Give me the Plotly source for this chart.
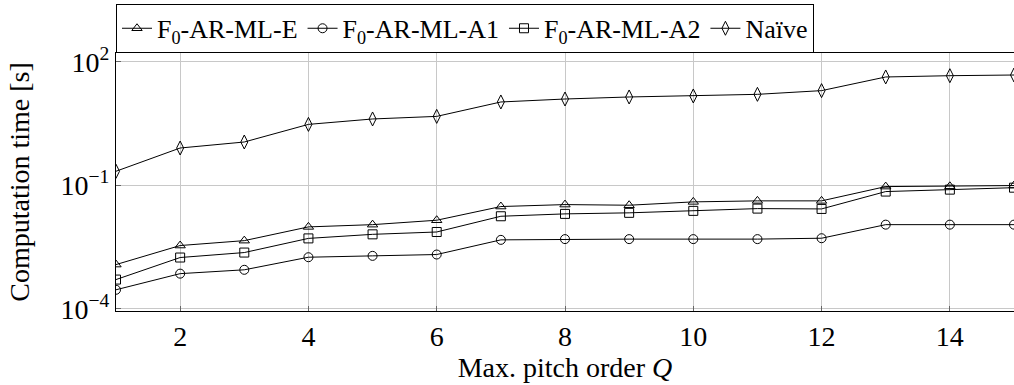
import plotly.graph_objects as go

# Maximum pitch order Q
pitch_order = list(range(1, 16))

# Computation time in seconds for each estimator
time_e = [1.18e-3, 3.42e-3, 4.5e-3, 9.7e-3, 1.1e-2, 1.41e-2, 3.03e-2, 3.38e-2,
          3.26e-2, 3.93e-2, 4.16e-2, 4.16e-2, 9.25e-2, 9.4e-2, 9.8e-2]
time_a1 = [2.88e-4, 7.1e-4, 8.8e-4, 1.78e-3, 1.92e-3, 2.07e-3, 4.7e-3, 4.9e-3,
           4.9e-3, 4.9e-3, 4.9e-3, 5.15e-3, 1.1e-2, 1.1e-2, 1.1e-2]
time_a2 = [5.1e-4, 1.75e-3, 2.31e-3, 5.1e-3, 6.4e-3, 7.3e-3, 1.76e-2, 2.01e-2,
           2.13e-2, 2.38e-2, 2.7e-2, 2.65e-2, 7.0e-2, 7.8e-2, 8.7e-2]
time_naive = [0.218, 0.80, 1.12, 3.0, 4.06, 4.69, 10.5, 12.4, 13.9, 14.7,
              16.1, 19.8, 42.5, 45.7, 47.5]

series_names = ["F<sub>0</sub>-AR-ML-E", "F<sub>0</sub>-AR-ML-A1",
                "F<sub>0</sub>-AR-ML-A2", "Naïve"]

x_ticks = [2, 4, 6, 8, 10, 12, 14]
y_ticks = [1e-4, 1e-1, 1e2]
y_tick_labels = ["10<sup>−4</sup>", "10<sup>−1</sup>", "10<sup>2</sup>"]

FONT = "'Liberation Serif', 'Times New Roman', 'DejaVu Serif', serif"
SIZE = 28

fig = go.Figure()

styles = [
    (time_e, "triangle-up-open", 9),
    (time_a1, "circle-open", 9),
    (time_a2, "square-open", 9),
    (time_naive, "diamond-tall-open", 10),
]
for name, (values, symbol, size) in zip(series_names, styles):
    fig.add_trace(go.Scatter(
        x=pitch_order, y=values, name=name, mode="lines+markers",
        line=dict(color="black", width=1),
        marker=dict(symbol=symbol, size=size, color="black",
                    line=dict(color="black", width=1)),
    ))

fig.update_layout(
    width=1014, height=385,
    margin=dict(l=116, r=0, t=53, b=74, autoexpand=False),
    paper_bgcolor="white", plot_bgcolor="white",
    font=dict(family=FONT, size=SIZE, color="black"),
    showlegend=True,
    legend=dict(
        orientation="h", x=0, xanchor="left", y=0.99, yref="container",
        yanchor="top", bordercolor="black", borderwidth=1,
        bgcolor="white", font=dict(family=FONT, size=26),
        tracegroupgap=0,
    ),
    xaxis=dict(
        range=[1, 15], tickvals=x_ticks,
        showgrid=True, gridcolor="#c8c8c8", gridwidth=1,
        showline=True, linecolor="black", linewidth=1.2, mirror=True,
        ticks="inside", ticklen=5, tickcolor="#666666",
        zeroline=False,
        title=dict(text="Max. pitch order <i>Q</i>", standoff=0,
                   font=dict(family=FONT, size=SIZE)),
        tickfont=dict(family=FONT, size=SIZE),
    ),
    yaxis=dict(
        type="log", range=[-4.056, 2.211],
        tickvals=y_ticks, ticktext=y_tick_labels,
        showgrid=True, gridcolor="#c8c8c8", gridwidth=1,
        showline=True, linecolor="black", linewidth=1.2, mirror=True,
        ticks="inside", ticklen=5, tickcolor="#666666",
        zeroline=False,
        title=dict(text="Computation time [s]", standoff=22,
                   font=dict(family=FONT, size=SIZE)),
        tickfont=dict(family=FONT, size=SIZE),
    ),
)

fig.write_html("out.html")
